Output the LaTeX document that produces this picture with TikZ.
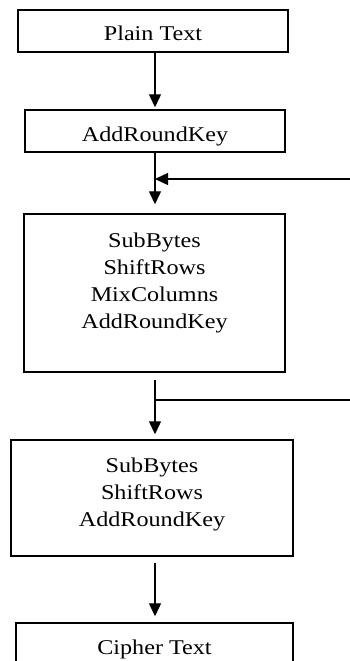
\documentclass[tikz,border=0pt]{standalone}
\usepackage{fontspec}
\newfontfamily\boxfont[FakeStretch=1.15]{Liberation Serif}
\usetikzlibrary{arrows.meta}
\tikzstyle{stage}=[rectangle,draw=black,line width=1.4pt,align=center,
inner sep=0pt,font=\boxfont\fontsize{21}{27}\selectfont]
\tikzstyle{flow}=[line width=1.3pt,-{Triangle[length=13pt,width=12pt]}]
\tikzstyle{keyline}=[line width=1.3pt]

\begin{document}
\begin{tikzpicture}[x=1pt,y=-1pt]
            \useasboundingbox (0,0) rectangle (350,661);

            % STAGES

            \node[stage,minimum width=270pt,minimum height=42pt,text height=20pt,text depth=0pt] (plain) at (153,31) {Plain Text};
            \node[stage,minimum width=260pt,minimum height=42pt,text height=20pt,text depth=0pt] (ark) at (155,131) {AddRoundKey};
            \node[stage,minimum width=261pt,minimum height=158pt,text depth=25pt] (round) at (154.5,293) {SubBytes\\ShiftRows\\MixColumns\\AddRoundKey};
            \node[stage,minimum width=282pt,minimum height=116pt,text depth=12pt] (final) at (152,498) {SubBytes\\ShiftRows\\AddRoundKey};
            \node[stage,minimum width=277pt,minimum height=42pt,text height=20pt,text depth=0pt] (cipher) at (154.5,644) {Cipher Text};

            % FLOW

            \path[flow] (plain.south -| ark) edge[shorten >=2pt] (ark.north);
            \path[flow] (ark.south) edge[shorten >=9pt] (ark.south |- round.north);
            \path[flow] (ark.south |- round.south) edge[shorten <=7pt,shorten >=5pt] (ark.south |- final.north);
            \path[flow] (ark.south |- final.south) edge[shorten <=6pt,shorten >=6pt] (ark.south |- cipher.north);

            % ROUND KEYS

            \coordinate (keyin) at (350,179);
            \coordinate (keyout) at (350,400);
            \path[flow] (keyin) edge (keyin -| ark.south);
            \path[keyline] (keyout -| ark.south) edge (keyout);

\end{tikzpicture}
\end{document}
